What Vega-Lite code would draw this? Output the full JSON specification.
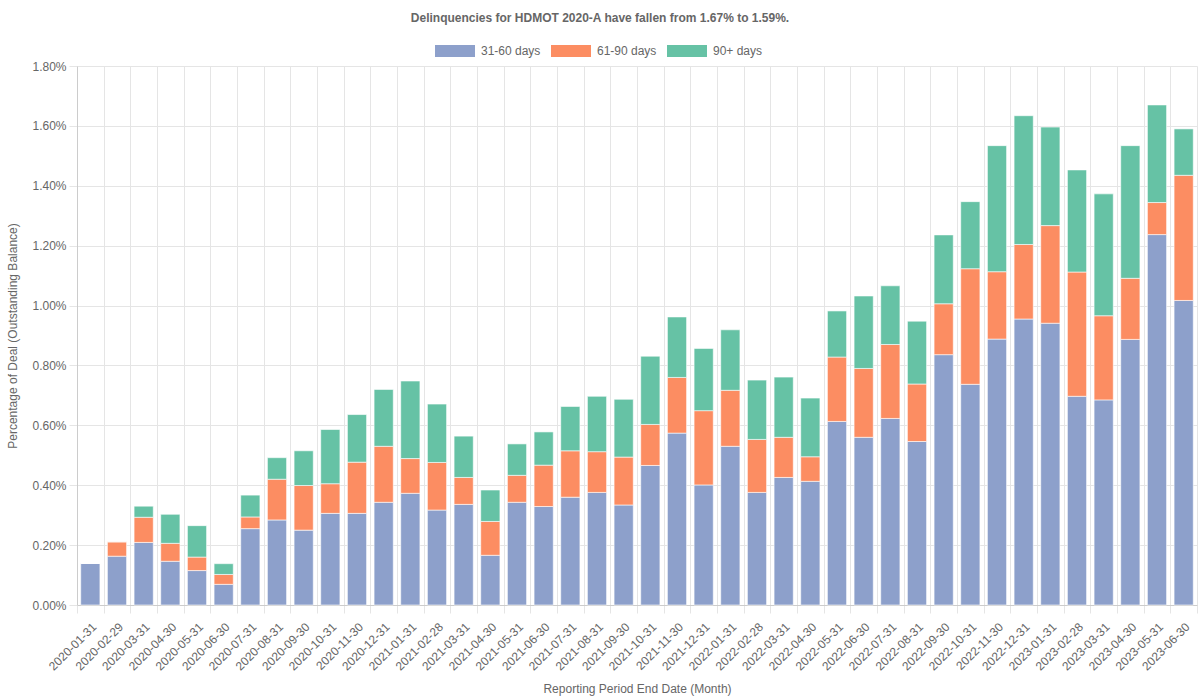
{
  "$schema": "https://vega.github.io/schema/vega-lite/v6.json",
  "width": 1120,
  "height": 539,
  "autosize": {"type": "none"},
  "padding": {"left": 77, "top": 66, "right": 3, "bottom": 95},
  "background": "white",
  "title": {
    "text": "Delinquencies for HDMOT 2020-A have fallen from 1.67% to 1.59%.",
    "anchor": "middle",
    "frame": "group",
    "dx": -37,
    "dy": -2,
    "fontSize": 12,
    "fontWeight": "bold",
    "color": "#666666",
    "font": "Liberation Sans"
  },
  "data": {
    "values": [
      {"date": "2020-01-31", "31-60 days": 0.139, "61-90 days": 0, "90+ days": 0},
      {"date": "2020-02-29", "31-60 days": 0.163, "61-90 days": 0.048, "90+ days": 0},
      {"date": "2020-03-31", "31-60 days": 0.209, "61-90 days": 0.084, "90+ days": 0.037},
      {"date": "2020-04-30", "31-60 days": 0.146, "61-90 days": 0.060, "90+ days": 0.097},
      {"date": "2020-05-31", "31-60 days": 0.115, "61-90 days": 0.045, "90+ days": 0.105},
      {"date": "2020-06-30", "31-60 days": 0.069, "61-90 days": 0.033, "90+ days": 0.036},
      {"date": "2020-07-31", "31-60 days": 0.255, "61-90 days": 0.039, "90+ days": 0.073},
      {"date": "2020-08-31", "31-60 days": 0.284, "61-90 days": 0.136, "90+ days": 0.072},
      {"date": "2020-09-30", "31-60 days": 0.250, "61-90 days": 0.149, "90+ days": 0.116},
      {"date": "2020-10-31", "31-60 days": 0.306, "61-90 days": 0.099, "90+ days": 0.181},
      {"date": "2020-11-30", "31-60 days": 0.306, "61-90 days": 0.171, "90+ days": 0.159},
      {"date": "2020-12-31", "31-60 days": 0.343, "61-90 days": 0.187, "90+ days": 0.190},
      {"date": "2021-01-31", "31-60 days": 0.373, "61-90 days": 0.116, "90+ days": 0.259},
      {"date": "2021-02-28", "31-60 days": 0.317, "61-90 days": 0.159, "90+ days": 0.195},
      {"date": "2021-03-31", "31-60 days": 0.336, "61-90 days": 0.090, "90+ days": 0.138},
      {"date": "2021-04-30", "31-60 days": 0.166, "61-90 days": 0.113, "90+ days": 0.105},
      {"date": "2021-05-31", "31-60 days": 0.343, "61-90 days": 0.090, "90+ days": 0.105},
      {"date": "2021-06-30", "31-60 days": 0.329, "61-90 days": 0.138, "90+ days": 0.111},
      {"date": "2021-07-31", "31-60 days": 0.360, "61-90 days": 0.155, "90+ days": 0.148},
      {"date": "2021-08-31", "31-60 days": 0.376, "61-90 days": 0.136, "90+ days": 0.185},
      {"date": "2021-09-30", "31-60 days": 0.334, "61-90 days": 0.160, "90+ days": 0.193},
      {"date": "2021-10-31", "31-60 days": 0.466, "61-90 days": 0.137, "90+ days": 0.228},
      {"date": "2021-11-30", "31-60 days": 0.574, "61-90 days": 0.186, "90+ days": 0.202},
      {"date": "2021-12-31", "31-60 days": 0.401, "61-90 days": 0.248, "90+ days": 0.208},
      {"date": "2022-01-31", "31-60 days": 0.530, "61-90 days": 0.187, "90+ days": 0.202},
      {"date": "2022-02-28", "31-60 days": 0.376, "61-90 days": 0.177, "90+ days": 0.198},
      {"date": "2022-03-31", "31-60 days": 0.426, "61-90 days": 0.134, "90+ days": 0.201},
      {"date": "2022-04-30", "31-60 days": 0.413, "61-90 days": 0.082, "90+ days": 0.196},
      {"date": "2022-05-31", "31-60 days": 0.613, "61-90 days": 0.215, "90+ days": 0.154},
      {"date": "2022-06-30", "31-60 days": 0.560, "61-90 days": 0.230, "90+ days": 0.242},
      {"date": "2022-07-31", "31-60 days": 0.623, "61-90 days": 0.247, "90+ days": 0.196},
      {"date": "2022-08-31", "31-60 days": 0.546, "61-90 days": 0.192, "90+ days": 0.210},
      {"date": "2022-09-30", "31-60 days": 0.836, "61-90 days": 0.170, "90+ days": 0.230},
      {"date": "2022-10-31", "31-60 days": 0.737, "61-90 days": 0.386, "90+ days": 0.224},
      {"date": "2022-11-30", "31-60 days": 0.888, "61-90 days": 0.225, "90+ days": 0.421},
      {"date": "2022-12-31", "31-60 days": 0.955, "61-90 days": 0.249, "90+ days": 0.430},
      {"date": "2023-01-31", "31-60 days": 0.941, "61-90 days": 0.326, "90+ days": 0.329},
      {"date": "2023-02-28", "31-60 days": 0.697, "61-90 days": 0.415, "90+ days": 0.341},
      {"date": "2023-03-31", "31-60 days": 0.685, "61-90 days": 0.281, "90+ days": 0.407},
      {"date": "2023-04-30", "31-60 days": 0.887, "61-90 days": 0.204, "90+ days": 0.443},
      {"date": "2023-05-31", "31-60 days": 1.237, "61-90 days": 0.107, "90+ days": 0.326},
      {"date": "2023-06-30", "31-60 days": 1.017, "61-90 days": 0.418, "90+ days": 0.155}
    ]
  },
  "transform": [
    {"fold": ["31-60 days", "61-90 days", "90+ days"], "as": ["bucket", "value"]}
  ],
  "mark": {"type": "bar", "width": {"band": 0.72}, "stroke": "white", "strokeWidth": 0.6},
  "encoding": {
    "x": {
      "field": "date",
      "type": "ordinal",
      "scale": {"paddingInner": 0, "paddingOuter": 0},
      "axis": {
        "tickBand": "extent",
        "labelAngle": -45,
        "labelFontSize": 12,
        "labelColor": "#666666",
        "labelPadding": 8,
        "grid": true,
        "gridColor": "#e5e5e5",
        "tickColor": "#e5e5e5",
        "tickSize": 8,
        "domainColor": "#cccccc",
        "title": "Reporting Period End Date (Month)",
        "titleFontSize": 12,
        "titleFontWeight": "normal",
        "titleColor": "#666666",
        "titleY": 83,
        "titleBaseline": "middle"
      }
    },
    "y": {
      "field": "value",
      "type": "quantitative",
      "stack": "zero",
      "scale": {"domain": [0, 1.8], "nice": false},
      "axis": {
        "values": [0, 0.2, 0.4, 0.6, 0.8, 1.0, 1.2, 1.4, 1.6, 1.8],
        "labelExpr": "format(datum.value, '.2f') + '%'",
        "labelFontSize": 12,
        "labelColor": "#666666",
        "labelPadding": 3,
        "tickSize": 8,
        "tickColor": "#e5e5e5",
        "grid": true,
        "gridColor": "#e5e5e5",
        "domainColor": "#cccccc",
        "title": "Percentage of Deal (Outstanding Balance)",
        "titleFontSize": 12,
        "titleFontWeight": "normal",
        "titleColor": "#666666",
        "titleX": -65,
        "titleBaseline": "middle"
      }
    },
    "color": {
      "field": "bucket",
      "type": "nominal",
      "scale": {
        "domain": ["31-60 days", "61-90 days", "90+ days"],
        "range": ["#8DA0CB", "#FC8D62", "#66C2A5"]
      },
      "legend": {
        "orient": "none",
        "legendX": 358,
        "legendY": -35,
        "direction": "horizontal",
        "title": null,
        "symbolType": "M-1,-0.3H1V0.3H-1Z",
        "symbolSize": 1600,
        "symbolStrokeWidth": 0,
        "labelFontSize": 12,
        "labelColor": "#666666",
        "labelOffset": 6,
        "columnPadding": 10
      }
    },
    "order": {"field": "bucket", "sort": "ascending"}
  },
  "config": {
    "font": "Liberation Sans",
    "view": {"stroke": null}
  }
}
